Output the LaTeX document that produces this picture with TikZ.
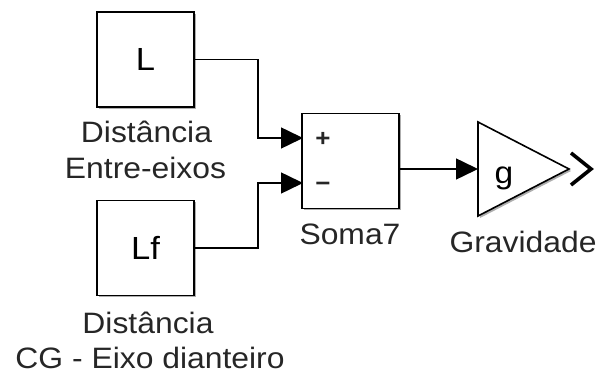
\documentclass[tikz,border=0pt]{standalone}
\usepackage{fontspec}
\setmainfont[FakeStretch=1.08]{Liberation Sans}
\usetikzlibrary{arrows.meta,shadows,calc}

\tikzset{
  blk/.style={draw=black, line width=1.6pt, fill=white, minimum width=97pt, minimum height=95pt, inner sep=0pt,
    drop shadow={shadow xshift=2pt, shadow yshift=-2pt, fill=black!45, opacity=0.7},
    font=\fontsize{32}{38}\selectfont},
  lbl/.style={anchor=base, inner sep=0pt, font=\fontsize{29.5}{36}\selectfont, text=black!85},
  sgn/.style={inner sep=0pt, font=\fontsize{24}{28}\selectfont\bfseries, text=black!85},
  conn/.style={line width=1.5pt, draw=black},
  sig/.style={conn, -{Triangle[length=22pt, width=21pt]}},
}

\begin{document}
\begin{tikzpicture}[x=1pt, y=-1pt]
  \useasboundingbox (0,0) rectangle (598,379);

  % source constants
  \node[blk] (L)  at (145.5,59.5) {L};
  \node[blk] (Lf) at (145.5,248)  {Lf};

  % sum block with its two input ports
  \node[blk] (S) at (350.5,161) {};
  \coordinate (in1) at (303,138);
  \coordinate (in2) at (303,183);
  \node[sgn] (plus)  at (323,139) {+};
  \node[sgn] (minus) at (323,187) {−};

  % gain triangle
  \coordinate (Gtop) at (478,122);
  \coordinate (Gbot) at (478,216);
  \coordinate (Gtip) at (569,169);
  \coordinate (Gin)  at (478,169);
  \fill[black!45, opacity=0.7] ($(Gtop)+(2,2)$) -- ($(Gtip)+(2,2)$) -- ($(Gbot)+(2,2)$) -- cycle;
  \draw[line width=1.6pt, fill=white, line join=miter] (Gtop) -- (Gtip) -- (Gbot) -- cycle;
  \node[font=\fontsize{31}{36}\selectfont, inner sep=0pt, anchor=base] (g) at (504,184) {g};

  % output port chevron
  \coordinate (ch1) at (571,153);
  \coordinate (ch2) at (591,169);
  \coordinate (ch3) at (571,185);
  \draw[line width=3.6pt, line join=miter, line cap=butt] (ch1) -- (ch2) -- (ch3);

  % signal lines
  \draw[sig] (L.east)  -- ++(63,0) |- (in1);
  \draw[sig] (Lf.east) -- ++(63,0) |- (in2);
  \draw[sig] (S.east |- Gin) -- (Gin);

  % block captions
  \node[lbl] (d1a) at (146.5,143) {Distância};
  \node[lbl] (d1b) at (145.5,179) {Entre-eixos};
  \node[lbl] (d2a) at (148,334) {Distância};
  \node[lbl] (d2b) at (150,369) {CG - Eixo dianteiro};
  \node[lbl] (soma) at (350,245) {Soma7};
  \node[lbl] (grav) at (523,253) {Gravidade};
\end{tikzpicture}
\end{document}
